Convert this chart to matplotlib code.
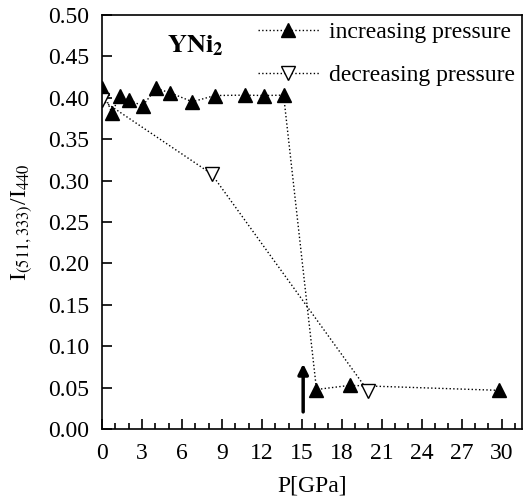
import numpy as np
import matplotlib
matplotlib.use("Agg")
import matplotlib.pyplot as plt
from matplotlib.ticker import MultipleLocator

plt.rcParams['font.family'] = ['Liberation Serif', 'DejaVu Serif']
plt.rcParams['mathtext.fontset'] = 'stix'

# increasing pressure
p_up = [0.0, 0.73, 1.36, 2.04, 3.05, 4.06, 5.09, 6.78, 8.47, 10.73, 12.19, 13.63,
        16.1, 18.6, 29.8]
r_up = [0.411, 0.382, 0.402, 0.397, 0.390, 0.411, 0.406, 0.395, 0.4025, 0.403,
        0.4025, 0.403, 0.048, 0.053, 0.047]

# decreasing pressure
p_down = [0.0, 8.22, 19.95]
r_down = [0.397, 0.308, 0.0466]

# arrow marking the transition
arrow_p = 15.1
arrow_y = [0.021, 0.079]

fig = plt.figure(figsize=(5.32, 5.03), dpi=100)
ax = fig.add_axes([0.1917, 0.1465, 0.7889, 0.8243])

ax.plot(p_up, r_up, linestyle=':', color='k', lw=1.0, marker='^', ms=10,
        mfc='k', mec='k', label='increasing pressure')
ax.plot(p_down, r_down, linestyle=':', color='k', lw=1.0, marker='v', ms=10,
        mfc='white', mec='k', mew=1.0, label='decreasing pressure')

ax.annotate('', xy=(arrow_p, arrow_y[1]), xytext=(arrow_p, arrow_y[0]),
            arrowprops=dict(arrowstyle='-|>', lw=2.5, color='k', mutation_scale=15,
                            shrinkA=0, shrinkB=0))

ax.text(7.0, 0.463, r'$\mathbf{YNi_2}$', fontsize=19, ha='center', va='center')

ax.set_xlim(0, 31.5)
ax.set_ylim(0, 0.5)
ax.xaxis.set_major_locator(MultipleLocator(3))
ax.xaxis.set_minor_locator(MultipleLocator(1))
ax.yaxis.set_major_locator(MultipleLocator(0.05))
ax.yaxis.set_major_formatter(matplotlib.ticker.FormatStrFormatter('%.2f'))
ax.tick_params(axis='both', which='both', direction='in', labelsize=17)
ax.tick_params(axis='both', which='major', length=7, width=1.2, pad=9)
ax.tick_params(axis='x', which='major', pad=10)
ax.tick_params(axis='x', which='minor', length=4, width=1.2)
for s in ax.spines.values():
    s.set_linewidth(1.2)

ax.set_xlabel('P[GPa]', fontsize=17, labelpad=8)
ax.set_ylabel(r'I$_{(511,333)}$/I$_{440}$', fontsize=17, labelpad=10)

ax.legend(loc='upper right', frameon=False, fontsize=17, handlelength=2.6,
          labelspacing=0.9, borderaxespad=0.1, handletextpad=0.4,
          borderpad=0.2)

fig.savefig('out.png', dpi=100)
